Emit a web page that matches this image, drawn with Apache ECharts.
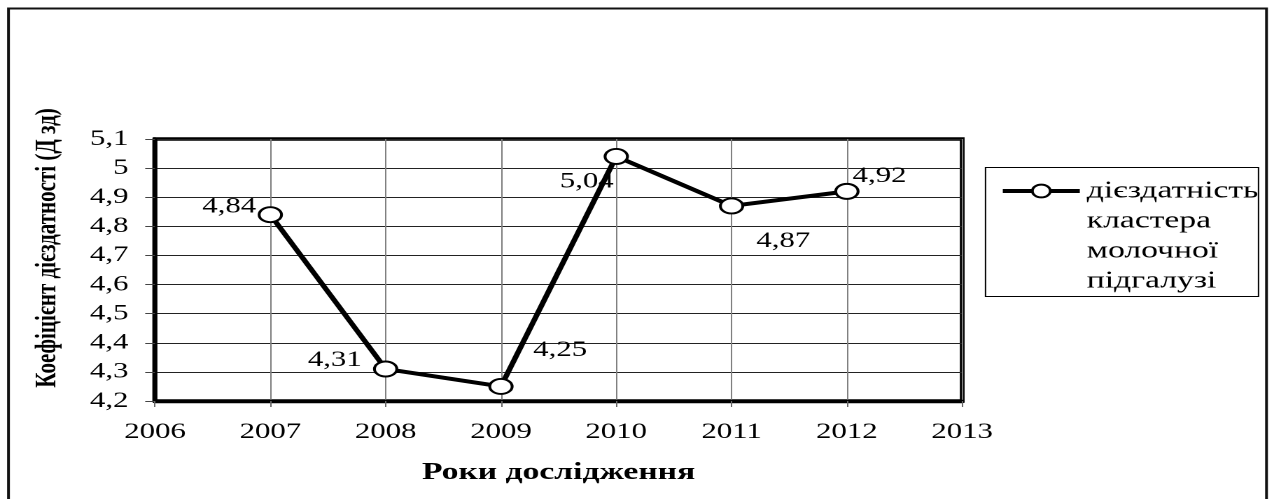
<!DOCTYPE html>
<html>
<head>
<meta charset="utf-8">
<script src="https://cdn.jsdelivr.net/npm/echarts@6/dist/echarts.min.js"></script>
<style>
  html, body { margin: 0; padding: 0; background: #fff; overflow: hidden; }
  /* the reference is stretched sideways, so draw narrow and stretch the chart */
  #chart { height: 499px; transform-origin: 0 0; }
</style>
</head>
<body>
<div id="chart"></div>
<script>
// data
const years = [2007, 2008, 2009, 2010, 2011, 2012];
const values = [4.84, 4.31, 4.25, 5.04, 4.87, 4.92];
const seriesName = 'дієздатність\nкластера\nмолочної\nпідгалузі';
const xTitle = 'Роки дослідження';
const yTitle = 'Коефіцієнт дієздатності (Д зд)';

// horizontal stretch of the picture
const S = 1.4;
const W = 1271 / S;

// per-point label placement (position, offset)
const labelPlace = [
  ['left', [4, -8]],
  ['left', [-3, -9]],
  ['right', [9, -36]],
  ['bottom', [-21, 1]],
  ['bottom', [37, 11]],
  ['right', [-10, -15]]
];

const serif = '"Liberation Serif", "DejaVu Serif", serif';
const comma = v => String(v).replace('.', ',');

const el = document.getElementById('chart');
el.style.width = W + 'px';
el.style.transform = 'scaleX(' + S + ')';

const chart = echarts.init(el, null, { renderer: 'canvas', devicePixelRatio: 2 });

chart.setOption({
  animation: false,
  backgroundColor: '#fff',
  textStyle: { fontFamily: serif },
  grid: {
    left: 155 / S, right: W - 962 / S, top: 139, bottom: 98,
    show: true, borderColor: '#000', borderWidth: 3.4
  },
  legend: {
    data: [seriesName],
    left: 1000 / S,
    top: 86,
    padding: 0,
    itemWidth: 77 / S,
    itemHeight: 16,
    lineStyle: { width: 4, color: '#000' },
    itemStyle: { color: '#fff', borderColor: '#000', borderWidth: 2 },
    formatter: name => '\n\n\n' + name,
    textStyle: { fontFamily: serif, fontSize: 24, color: '#000', lineHeight: 30 }
  },
  xAxis: {
    type: 'value',
    min: 2006, max: 2013, interval: 1,
    name: xTitle,
    nameLocation: 'middle',
    nameGap: 60,
    nameTextStyle: { fontFamily: serif, fontSize: 24, fontWeight: 'bold', color: '#000' },
    axisLine: { lineStyle: { color: '#000', width: 3.4 } },
    axisTick: { show: true, length: 6, lineStyle: { color: '#666' } },
    axisLabel: { fontFamily: serif, fontSize: 22, color: '#000', margin: 20, formatter: v => String(v) },
    splitLine: { show: true, lineStyle: { color: '#808080', width: 1 } }
  },
  yAxis: {
    type: 'value',
    min: 4.2, max: 5.1, interval: 0.1,
    name: yTitle,
    nameLocation: 'middle',
    nameGap: 66,
    nameTextStyle: {
      fontFamily: serif, fontSize: 21, fontWeight: 'bold', color: '#000',
      padding: [0, 0, 0, 44]
    },
    axisLine: { show: true, lineStyle: { color: '#000', width: 3.4 } },
    axisTick: { show: true, length: 7, lineStyle: { color: '#444' } },
    axisLabel: {
      fontFamily: serif, fontSize: 22, color: '#000', margin: 19,
      formatter: v => comma(Math.round(v * 10) / 10)
    },
    splitLine: { show: true, lineStyle: { color: '#222', width: 1 } }
  },
  series: [{
    name: seriesName,
    type: 'line',
    data: years.map((y, i) => ({
      value: [y, values[i]],
      label: { position: labelPlace[i][0], offset: labelPlace[i][1] }
    })),
    symbol: 'circle',
    symbolSize: [16, 15],
    lineStyle: { color: '#000', width: 4 },
    itemStyle: { color: '#fff', borderColor: '#000', borderWidth: 2 },
    label: {
      show: true,
      fontFamily: serif, fontSize: 22, color: '#000',
      formatter: p => comma(p.value[1])
    },
    z: 5
  }],
  graphic: [
    {
      type: 'rect', silent: true,
      shape: { x: 8.5 / S, y: 8.5, width: 1258 / S, height: 500 },
      style: { fill: 'none', stroke: '#111', lineWidth: 2 }
    },
    {
      type: 'rect', silent: true,
      shape: { x: 985.5 / S, y: 167.5, width: 273 / S, height: 129 },
      style: { fill: 'none', stroke: '#000', lineWidth: 1 }
    }
  ]
});
</script>
</body>
</html>
